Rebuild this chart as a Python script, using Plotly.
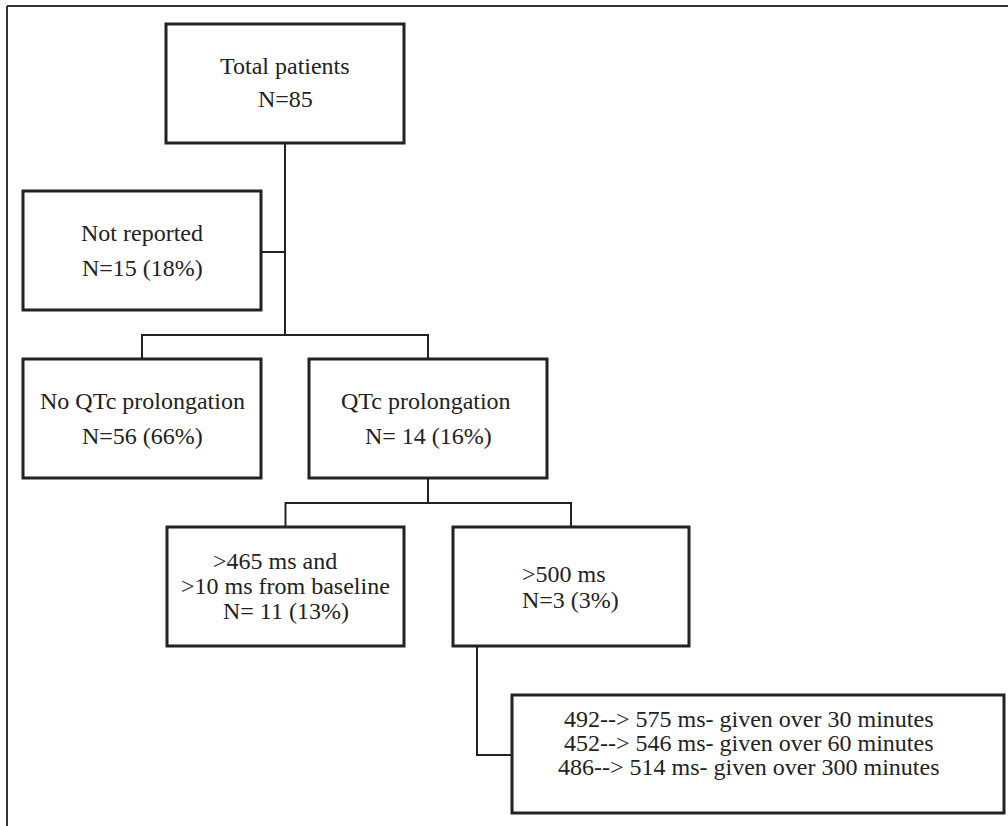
import plotly.graph_objects as go

# ---- data ----
node_titles = ["Total patients", "Not reported", "No QTc prolongation",
               "QTc prolongation", ">465 ms and", ">500 ms"]
node_subtitles = ["", "", "", "", ">10 ms from baseline", ""]
node_counts = [85, 15, 56, 14, 11, 3]
node_percents = [None, 18, 66, 16, 13, 3]
count_sep = ["", "", "", " ", " ", ""]   # "N= 14" style spacing as printed

baseline_qtc = [492, 452, 486]
peak_qtc = [575, 546, 514]
infusion_minutes = [30, 60, 300]

# ---- layout (pixel coordinates) ----
boxes = {  # x0, y0, x1, y1
    "total": (166, 24, 404, 143),
    "notrep": (23, 191, 261, 310),
    "noqtc": (23, 359, 261, 478),
    "qtc": (309, 359, 547, 478),
    "b465": (167, 527, 404, 646),
    "b500": (453, 527, 689, 646),
    "detail": (512, 695, 1004, 813),
}

INK = "#222222"
FONT = "Liberation Serif, Times New Roman, serif"

fig = go.Figure()
shapes = []

# outer frame (top and left edges)
shapes.append(dict(type="line", x0=7, y0=6, x1=1008, y1=6, line=dict(color="#333", width=2)))
shapes.append(dict(type="line", x0=7, y0=6, x1=7, y1=826, line=dict(color="#333", width=2)))

for k, (x0, y0, x1, y1) in boxes.items():
    shapes.append(dict(type="rect", x0=x0, y0=y0, x1=x1, y1=y1,
                       line=dict(color=INK, width=3), fillcolor="white", layer="above"))

def cx(k):
    b = boxes[k]
    return (b[0] + b[2]) / 2

connectors = []
connectors.append(f"M {cx('total')} {boxes['total'][3]} L {cx('total')} 335")
connectors.append(f"M {boxes['notrep'][2]} 252 L {cx('total')} 252")
connectors.append(f"M {cx('noqtc')} {boxes['noqtc'][1]} L {cx('noqtc')} 335 L {cx('qtc')} 335 L {cx('qtc')} {boxes['qtc'][1]}")
connectors.append(f"M {cx('qtc')} {boxes['qtc'][3]} L {cx('qtc')} 503")
connectors.append(f"M {cx('b465')} {boxes['b465'][1]} L {cx('b465')} 503 L {cx('b500')} 503 L {cx('b500')} {boxes['b500'][1]}")
connectors.append(f"M 477 {boxes['b500'][3]} L 477 755 L {boxes['detail'][0]} 755")
for p in connectors:
    shapes.append(dict(type="path", path=p, line=dict(color=INK, width=2), layer="below"))

annotations = []

def add_text(txt, x, y, xanchor="center"):
    annotations.append(dict(text=txt, x=x, y=y, xref="x", yref="y", showarrow=False,
                            xanchor=xanchor, yanchor="middle", borderpad=0,
                            font=dict(family=FONT, size=24, color=INK)))

def count_text(i):
    s = f"N={count_sep[i]}{node_counts[i]}"
    if node_percents[i] is not None:
        s += f" ({node_percents[i]}%)"
    return s

add_text(node_titles[0], cx("total"), 66)
add_text(count_text(0), cx("total"), 99)
add_text(node_titles[1], cx("notrep"), 233)
add_text(count_text(1), cx("notrep"), 268)
add_text(node_titles[2], cx("noqtc"), 401)
add_text(count_text(2), cx("noqtc"), 436)
add_text(node_titles[3], cx("qtc") - 2, 401)
add_text(count_text(3), cx("qtc"), 436)
add_text(node_titles[4], cx("b465") - 11, 561)
add_text(node_subtitles[4], cx("b465"), 586)
add_text(count_text(4), cx("b465"), 611)
add_text(node_titles[5], 521, 574, xanchor="left")
add_text(count_text(5), 521, 600, xanchor="left")
for j, (b, p, m) in enumerate(zip(baseline_qtc, peak_qtc, infusion_minutes)):
    add_text(f"{b}--> {p} ms- given over {m} minutes", 748, 719 + j * 24)

fig.update_layout(
    width=1008, height=826, autosize=False,
    margin=dict(l=0, r=0, t=0, b=0),
    paper_bgcolor="white", plot_bgcolor="white",
    xaxis=dict(range=[0, 1008], visible=False, fixedrange=True),
    yaxis=dict(range=[826, 0], visible=False, fixedrange=True),
    shapes=shapes, annotations=annotations, showlegend=False,
)

fig.write_html("out.html", config={"displayModeBar": False},
               post_script="document.body.style.margin='0';document.body.style.overflow='hidden';")
